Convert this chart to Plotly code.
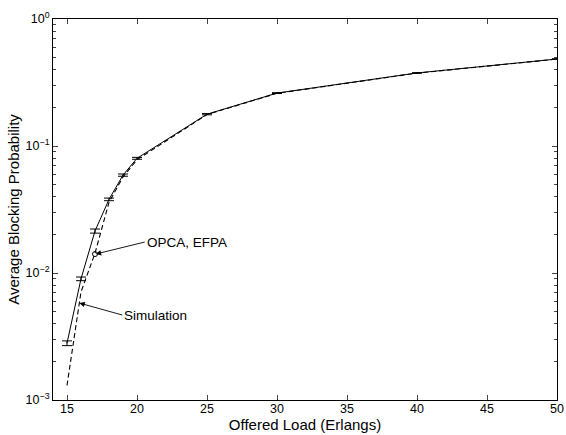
import math
import plotly.graph_objects as go

# Offered load (Erlangs)
load = [15, 16, 17, 18, 19, 20, 25, 30, 40, 50]
# Simulation (solid, with error bars)
sim_blocking = [0.0028, 0.0090, 0.0214, 0.038, 0.059, 0.080, 0.178, 0.261, 0.376, 0.484]
sim_err = [0.00012, 0.0003, 0.0008, 0.0009, 0.0012, 0.0014, 0.002, 0.002, 0.002, 0.002]
# OPCA, EFPA (dashed)
approx_blocking = [0.0013, 0.0071, 0.0143, 0.036, 0.057, 0.078, 0.177, 0.260, 0.375, 0.483]

marker_x = [17]
marker_y = [0.0141]

ytick_vals = [1e-3, 1e-2, 1e-1, 1]
ytick_text = ["10<sup>\u22123</sup>", "10<sup>\u22122</sup>", "10<sup>\u22121</sup>", "10<sup>0</sup>"]
yminor_vals = [m * 10.0 ** e for e in (-3, -2, -1) for m in range(2, 10)]
xtick_vals = [15, 20, 25, 30, 35, 40, 45, 50]

font = "Liberation Sans, Arial, sans-serif"

fig = go.Figure()
fig.add_trace(go.Scatter(
    x=load, y=approx_blocking, mode="lines",
    line=dict(color="black", width=1.1, dash="5px,3px"), showlegend=False))
fig.add_trace(go.Scatter(
    x=load, y=sim_blocking, mode="lines",
    line=dict(color="black", width=1),
    error_y=dict(type="data", array=sim_err, visible=True, color="black", thickness=1, width=5),
    showlegend=False))
fig.add_trace(go.Scatter(
    x=marker_x, y=marker_y, mode="markers",
    marker=dict(symbol="circle-open", size=5, color="black", line=dict(width=1)),
    showlegend=False))

fig.add_annotation(x=17.05, y=math.log10(0.0141), xref="x", yref="y", ax=49, ay=-12,
                   text="OPCA, EFPA", showarrow=True, arrowhead=2, arrowsize=1.2,
                   arrowwidth=0.9, arrowcolor="black", xanchor="left", yanchor="middle",
                   font=dict(family=font, size=13.5, color="black"))
fig.add_annotation(x=15.88, y=math.log10(0.0058), xref="x", yref="y", ax=43, ay=12,
                   text="Simulation", showarrow=True, arrowhead=2, arrowsize=1.2,
                   arrowwidth=0.9, arrowcolor="black", xanchor="left", yanchor="middle",
                   font=dict(family=font, size=13.5, color="black"))

fig.update_layout(
    width=566, height=435,
    margin=dict(l=53, r=9, t=19, b=35),
    paper_bgcolor="white", plot_bgcolor="white",
    font=dict(family=font, size=12, color="black"),
)
fig.update_xaxes(
    range=[14, 50], tickvals=xtick_vals, ticks="inside", ticklen=5,
    showline=True, linecolor="black", linewidth=1, mirror="ticks",
    showgrid=False, zeroline=False, automargin=False,
    tickfont=dict(size=12.5), ticklabelstandoff=-3,
    title=dict(text="Offered Load (Erlangs)", font=dict(size=15), standoff=0),
)
fig.update_yaxes(
    type="log", range=[-3, 0], tickvals=ytick_vals, ticktext=ytick_text,
    ticks="inside", ticklen=5,
    minor=dict(tickvals=yminor_vals, ticks="inside", ticklen=3, showgrid=False),
    showline=True, linecolor="black", linewidth=1, mirror="ticks",
    showgrid=False, zeroline=False, automargin=False,
    tickfont=dict(size=12.5),
    title=dict(text="Average Blocking Probability", font=dict(size=15), standoff=2),
)

fig.write_html("out.html", config={"displayModeBar": False},
               post_script="document.body.style.margin='0';")
